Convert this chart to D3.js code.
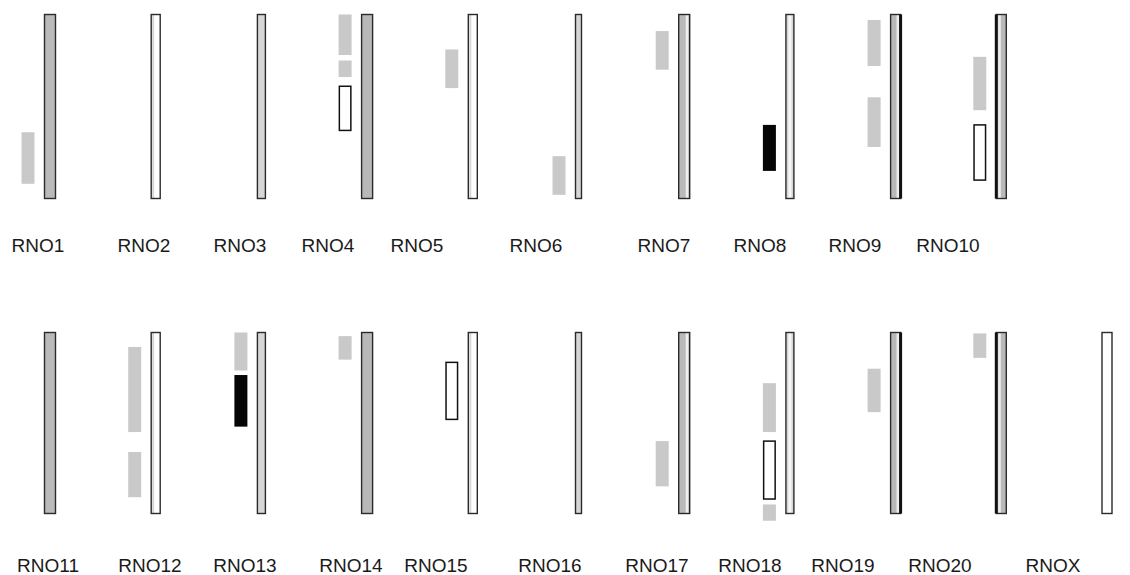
<!DOCTYPE html>
<html>
<head>
<meta charset="utf-8">
<script src="https://cdn.jsdelivr.net/npm/d3@7/dist/d3.min.js"></script>
<style>
  html, body { margin: 0; padding: 0; background: #fff; }
  svg { display: block; }
</style>
</head>
<body>
<script>
// ---- data ----
const row1Chromosomes = ["RNO1","RNO2","RNO3","RNO4","RNO5","RNO6","RNO7","RNO8","RNO9","RNO10"];
const row2Chromosomes = ["RNO11","RNO12","RNO13","RNO14","RNO15","RNO16","RNO17","RNO18","RNO19","RNO20","RNOX"];
// regions along chromosome, in % of chromosome length from top
const grayRegions = [
  {chr:"RNO1", start:64, end:92},
  {chr:"RNO4", start:0, end:22},
  {chr:"RNO4", start:25, end:34},
  {chr:"RNO5", start:19, end:40},
  {chr:"RNO6", start:77, end:98},
  {chr:"RNO7", start:9, end:30},
  {chr:"RNO9", start:3, end:28},
  {chr:"RNO9", start:45, end:72},
  {chr:"RNO10", start:23, end:52},
  {chr:"RNO12", start:8, end:55},
  {chr:"RNO12", start:66, end:91},
  {chr:"RNO13", start:0, end:21},
  {chr:"RNO14", start:2, end:15},
  {chr:"RNO17", start:60, end:85},
  {chr:"RNO18", start:28, end:55},
  {chr:"RNO18", start:95, end:104},
  {chr:"RNO19", start:20, end:44},
  {chr:"RNO20", start:0.5, end:14}
];
const openRegions = [
  {chr:"RNO4", start:39, end:63},
  {chr:"RNO10", start:60, end:90},
  {chr:"RNO15", start:16.5, end:48},
  {chr:"RNO18", start:60, end:92}
];
const blackRegions = [
  {chr:"RNO8", start:60, end:85},
  {chr:"RNO13", start:23.5, end:52}
];

// ---- drawing ----
const W = 1130, H = 575;
const svg = d3.select("body").append("svg").attr("width", W).attr("height", H);

const GRAY = "#b9b9b9", LIGHT = "#d6d6d6", BLOCK = "#c9c9c9";

const colX = d3.scaleLinear().domain([0, 10]).range([50, 1107]);
const rows = [
  {chroms: row1Chromosomes, y: d3.scaleLinear().domain([0, 100]).range([14.5, 198.5]),
   label: d3.scaleLinear().domain([0, 1, 2, 3, 4, 5, 6, 7, 8, 9])
     .range([38, 144, 240, 328, 417, 536, 664, 760, 855, 948]), labelY: 252},
  {chroms: row2Chromosomes, y: d3.scaleLinear().domain([0, 100]).range([332.5, 513.5]),
   label: d3.scaleLinear().domain([0, 1, 2, 3, 4, 5, 6, 7, 8, 9, 10])
     .range([48, 150, 245, 351, 436, 550, 657, 750, 843, 940, 1053]), labelY: 572}
];

// bar style per column position
const colStyle = [
  {w: 11, fill: GRAY},
  {w: 9,  fill: "#fff", strip: "left"},
  {w: 8,  fill: LIGHT},
  {w: 11, fill: GRAY},
  {w: 9,  fill: "#fff", strip: "left"},
  {w: 6,  fill: LIGHT},
  {w: 11, fill: GRAY, strip: "rightWhite"},
  {w: 8,  fill: LIGHT, strip: "centerWhite"},
  {w: 10, fill: GRAY, strip: "rightWhite", thick: "right"},
  {w: 10, fill: GRAY, strip: "leftWhite", thick: "left"},
  {w: 10, fill: "#fff"}
];

const lookup = {};
rows.forEach(r => r.chroms.forEach((c, i) => { lookup[c] = {row: r, col: i}; }));

const BLOCK_W = 13, GAP = 10;

rows.forEach(r => {
  const g = svg.append("g");
  r.chroms.forEach((c, i) => {
    const st = colStyle[i];
    const cx = colX(i);
    const x0 = cx - st.w / 2;
    const y0 = r.y(0), y1 = r.y(100);
    g.append("rect").attr("x", x0).attr("y", y0).attr("width", st.w).attr("height", y1 - y0)
      .attr("fill", st.fill);
    if (st.strip === "left") {
      g.append("rect").attr("x", x0 + 1).attr("y", y0).attr("width", 2).attr("height", y1 - y0)
        .attr("fill", LIGHT);
    } else if (st.strip === "rightWhite") {
      g.append("rect").attr("x", x0 + st.w - 4).attr("y", y0).attr("width", 2.5).attr("height", y1 - y0)
        .attr("fill", "#eeeeee");
    } else if (st.strip === "leftWhite") {
      g.append("rect").attr("x", x0 + 2).attr("y", y0).attr("width", 2.5).attr("height", y1 - y0)
        .attr("fill", "#eeeeee");
    } else if (st.strip === "centerWhite") {
      g.append("rect").attr("x", x0 + 2.5).attr("y", y0).attr("width", st.w - 5).attr("height", y1 - y0)
        .attr("fill", "#f7f7f7");
    }
    g.append("rect").attr("x", x0).attr("y", y0).attr("width", st.w).attr("height", y1 - y0)
      .attr("fill", "none").attr("stroke", "#2a2a2a").attr("stroke-width", 1.4);
    if (st.thick === "right") {
      g.append("line").attr("x1", x0 + st.w).attr("x2", x0 + st.w).attr("y1", y0).attr("y2", y1)
        .attr("stroke", "#111").attr("stroke-width", 3);
    } else if (st.thick === "left") {
      g.append("line").attr("x1", x0).attr("x2", x0).attr("y1", y0).attr("y2", y1)
        .attr("stroke", "#111").attr("stroke-width", 3);
    }
    g.append("text").attr("x", r.label(i)).attr("y", r.labelY)
      .attr("text-anchor", "middle")
      .attr("font-family", "'Liberation Sans', Arial, Helvetica, sans-serif")
      .attr("font-size", 19).attr("fill", "#1a1a1a").text(c);
  });
});

function blockGeom(d) {
  const L = lookup[d.chr];
  const st = colStyle[L.col];
  const right = colX(L.col) - st.w / 2 - GAP;
  return {x: right - BLOCK_W, y: L.row.y(d.start), w: BLOCK_W, h: L.row.y(d.end) - L.row.y(d.start)};
}

svg.append("g").selectAll("rect").data(grayRegions).join("rect")
  .each(function(d) {
    const b = blockGeom(d);
    d3.select(this).attr("x", b.x).attr("y", b.y).attr("width", b.w).attr("height", b.h);
  })
  .attr("fill", BLOCK);

svg.append("g").selectAll("rect").data(openRegions).join("rect")
  .each(function(d) {
    const b = blockGeom(d);
    d3.select(this).attr("x", b.x + 0.75).attr("y", b.y).attr("width", b.w - 1.5).attr("height", b.h);
  })
  .attr("fill", "#fff").attr("stroke", "#111").attr("stroke-width", 1.5);

svg.append("g").selectAll("rect").data(blackRegions).join("rect")
  .each(function(d) {
    const b = blockGeom(d);
    d3.select(this).attr("x", b.x).attr("y", b.y).attr("width", b.w).attr("height", b.h);
  })
  .attr("fill", "#050505");
</script>
</body>
</html>
